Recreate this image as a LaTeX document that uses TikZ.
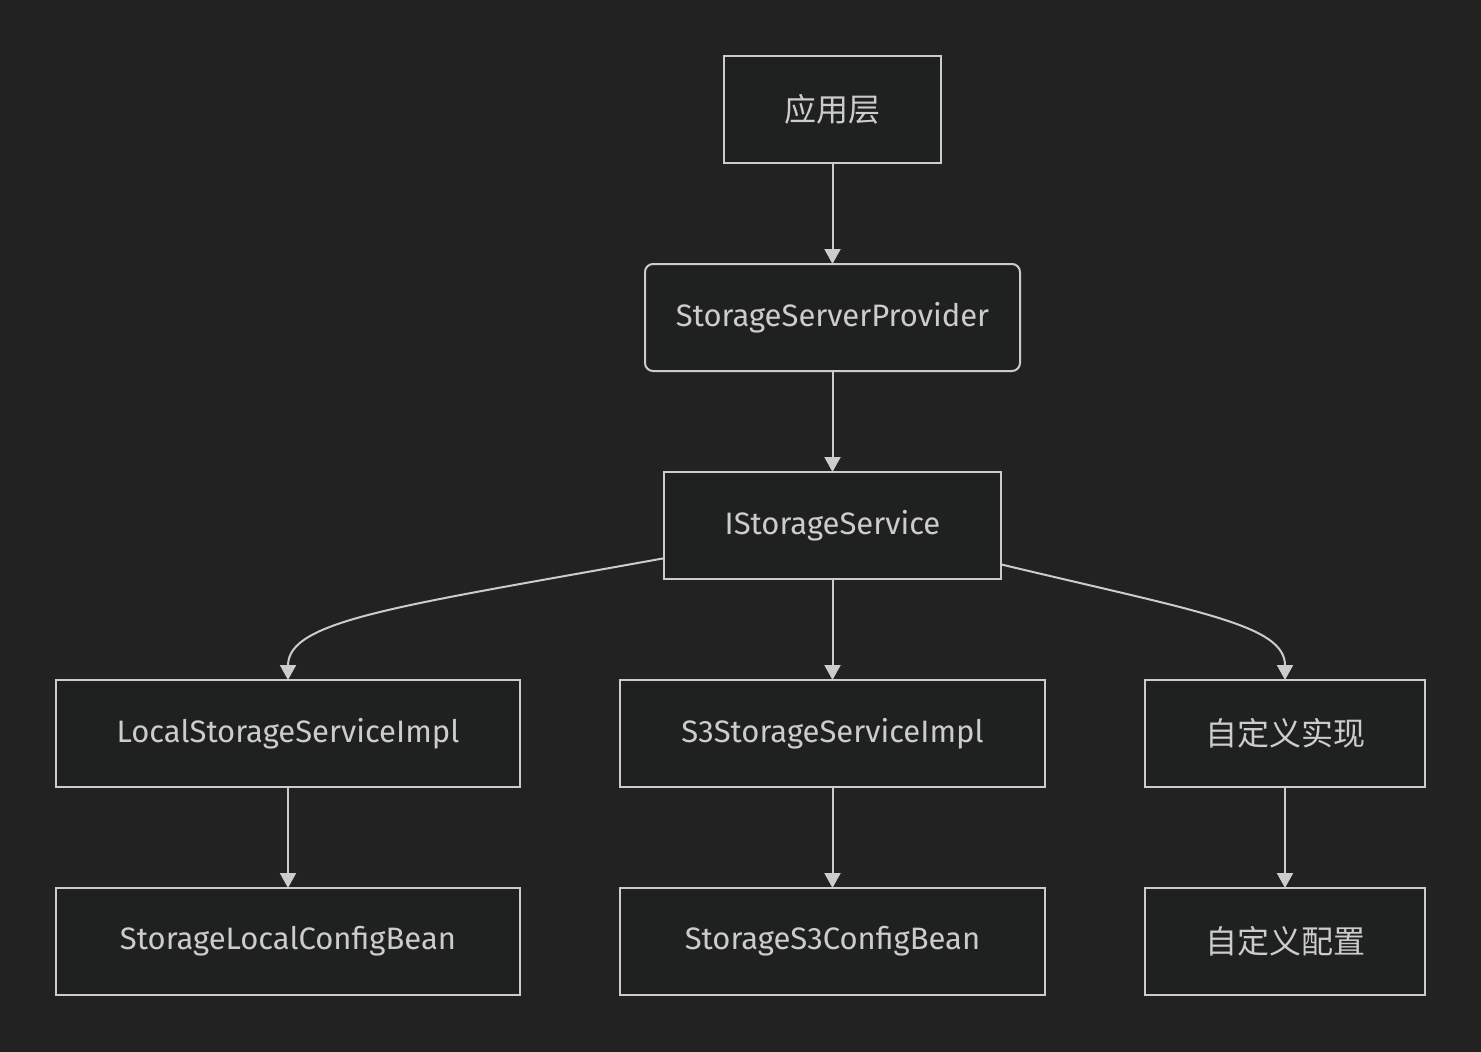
\documentclass[tikz,border=0pt]{standalone}
\usepackage{fontspec}
\setmainfont{Fira Sans}
\newfontfamily\cjk{Noto Sans CJK SC}
\usetikzlibrary{arrows.meta}
\definecolor{bgcol}{HTML}{222222}
\definecolor{boxfill}{HTML}{1F2020}
\definecolor{linecol}{HTML}{CCCCCC}
\newcommand{\cjklabel}[1]{{\cjk\fontsize{32}{38}\selectfont #1}}
\begin{document}
\begin{tikzpicture}[x=1pt,y=-1pt,inner sep=0pt,outer sep=0pt,line width=2pt,
>={Triangle[length=15pt,width=16pt]},
layerbox/.style={draw=linecol,fill=boxfill,rectangle,minimum height=107pt,text=linecol,font=\fontsize{31}{37}\selectfont},
roundbox/.style={layerbox,rounded corners=8pt},
link/.style={draw=linecol,->}]
\fill[bgcol] (0,0) rectangle (1481,1052);
% top chain
\draw (832.5,109.5) node[layerbox,minimum width=217pt] (app) {\cjklabel{应用层}};
\draw (832.5,317.5) node[roundbox,minimum width=375pt] (provider) {StorageServerProvider};
\draw (832.5,525.5) node[layerbox,minimum width=337pt] (iface) {IStorageService};
% implementations
\draw (288,733.5) node[layerbox,minimum width=464pt] (localimpl) {LocalStorageServiceImpl};
\draw (832.5,733.5) node[layerbox,minimum width=425pt] (s3impl) {S3StorageServiceImpl};
\draw (1285,733.5) node[layerbox,minimum width=280pt] (customimpl) {\cjklabel{自定义实现}};
% config beans
\draw (288,941.5) node[layerbox,minimum width=464pt] (localbean) {StorageLocalConfigBean};
\draw (832.5,941.5) node[layerbox,minimum width=425pt] (s3bean) {StorageS3ConfigBean};
\draw (1285,941.5) node[layerbox,minimum width=280pt] (custombean) {\cjklabel{自定义配置}};
\draw[link] (app) -- (provider);
\draw[link] (provider) -- (iface);
\draw[link] (iface.191) .. controls (400,606) and (288,620) .. (localimpl.north);
\draw[link] (iface) -- (s3impl);
\draw[link] (iface.-13) .. controls (1200,612) and (1285,625) .. (customimpl.north);
\draw[link] (localimpl) -- (localbean);
\draw[link] (s3impl) -- (s3bean);
\draw[link] (customimpl) -- (custombean);
\end{tikzpicture}
\end{document}
